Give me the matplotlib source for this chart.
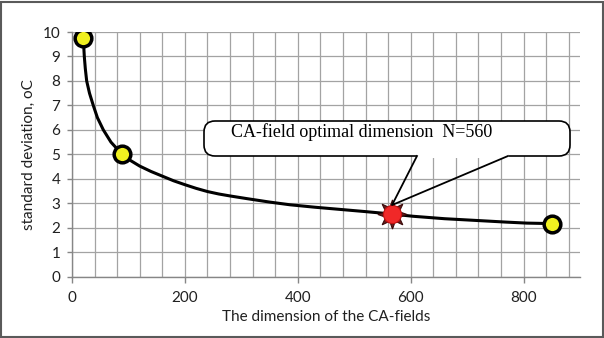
import matplotlib
matplotlib.use("Agg")
import matplotlib.pyplot as plt
from matplotlib.ticker import MultipleLocator
from matplotlib.patches import FancyBboxPatch, Rectangle
from matplotlib.lines import Line2D
from matplotlib.transforms import IdentityTransform

# curve
curve_x = [20, 21.8, 23.6, 26, 31, 37.7, 45, 55.5, 69, 88, 100, 120, 140, 161, 180, 200,
           220, 240, 260, 280, 310, 350, 386, 430, 475, 520, 567, 604, 660, 723, 770, 806, 850]
curve_y = [9.75, 9.0, 8.5, 8.0, 7.5, 7.0, 6.5, 6.0, 5.5, 5.02, 4.8, 4.52, 4.3, 4.1, 3.92, 3.76,
           3.61, 3.48, 3.38, 3.30, 3.19, 3.05, 2.94, 2.84, 2.75, 2.66, 2.56, 2.47, 2.37, 2.29, 2.23, 2.19, 2.17]

# marked points
pts_x = [20, 88, 850]
pts_y = [9.75, 5.02, 2.17]
opt_x = 567
opt_y = 2.56

note = "CA-field optimal dimension  N=560"
xlabel = "The dimension of the CA-fields"
ylabel = "standard deviation, oC"

W, H = 604, 338
fig = plt.figure(figsize=(W / 100, H / 100), dpi=100)
fig.patch.set_facecolor("white")

# axes placed by pixel (top-left origin)
L, R, T, B = 72, 580, 32, 276.7
ax = fig.add_axes([L / W, 1 - B / H, (R - L) / W, (B - T) / H])

ax.set_xlim(0, 900)
ax.set_ylim(0, 10)
ax.xaxis.set_major_locator(MultipleLocator(200))
ax.xaxis.set_minor_locator(MultipleLocator(40))
ax.yaxis.set_major_locator(MultipleLocator(1))

grid_c = "#a3a3a3"
ax.grid(True, which="both", axis="x", color=grid_c, lw=0.9)
ax.grid(True, which="major", axis="y", color=grid_c, lw=0.9)
ax.set_axisbelow(True)

for s in ["top", "right"]:
    ax.spines[s].set_visible(False)
for s in ["left", "bottom"]:
    ax.spines[s].set_color("#868686")
    ax.spines[s].set_linewidth(1.0)

fs = 11
ax.tick_params(axis="x", which="major", length=4, width=1, color="#868686", pad=6,
               labelsize=fs, labelcolor="#202020")
ax.tick_params(axis="x", which="minor", length=0)
ax.tick_params(axis="y", length=3.5, width=1, color="#868686", pad=5,
               labelsize=fs, labelcolor="#202020")
for lab in ax.get_xticklabels() + ax.get_yticklabels():
    lab.set_family("Lato")

ax.set_xlabel(xlabel, family="Lato", fontsize=fs, color="#202020", labelpad=4)
ax.set_ylabel(ylabel, family="Lato", fontsize=fs, color="#202020", labelpad=5)

# curve and markers
ax.plot(curve_x, curve_y, color="black", lw=2.2, zorder=3,
        solid_capstyle="round", solid_joinstyle="round")
ax.plot(pts_x, pts_y, ls="none", marker="o", ms=12, mfc="#f0f020", mec="black",
        mew=2.5, zorder=4)
ax.plot([opt_x], [opt_y], ls="none", marker=(8, 1, 0), ms=21, mfc="#6a1c1c",
        mec="#3a0a0a", mew=0.8, zorder=5)
ax.plot([opt_x], [opt_y], ls="none", marker="o", ms=13, mfc="#f02828",
        mec="#c01010", mew=0.8, zorder=6)

# callout box (pixel coords, top-left origin converted)
fig.canvas.draw()
tip = ax.transData.transform((opt_x, opt_y))
tip = (tip[0], tip[1] + 9)

bx0, bx1, by0, by1 = 204, 570, 121, 156
box = FancyBboxPatch((bx0, H - by1), bx1 - bx0, by1 - by0,
                     boxstyle="round,pad=0,rounding_size=11",
                     transform=IdentityTransform(), fc="white", ec="black",
                     lw=1.2, zorder=7)
fig.add_artist(box)
w0, w1 = 417, 508
fig.add_artist(Line2D([w0 + 1, w1 - 1], [H - by1, H - by1], color="white", lw=2.2,
                      transform=IdentityTransform(), zorder=8))
fig.add_artist(Line2D([w0, tip[0], w1], [H - by1, tip[1], H - by1], color="black",
                      lw=1.3, transform=IdentityTransform(), zorder=8))
fig.text(362 / W, 1 - 137 / H, note, family="Liberation Serif", fontsize=13,
         ha="center", va="baseline", color="black", zorder=9)

# outer frame
fig.add_artist(Rectangle((1, 1), W - 2.5, H - 2.5, transform=IdentityTransform(),
                         fill=False, ec="#5a5a5a", lw=1.5, zorder=10))

fig.savefig("out.png", dpi=100)
